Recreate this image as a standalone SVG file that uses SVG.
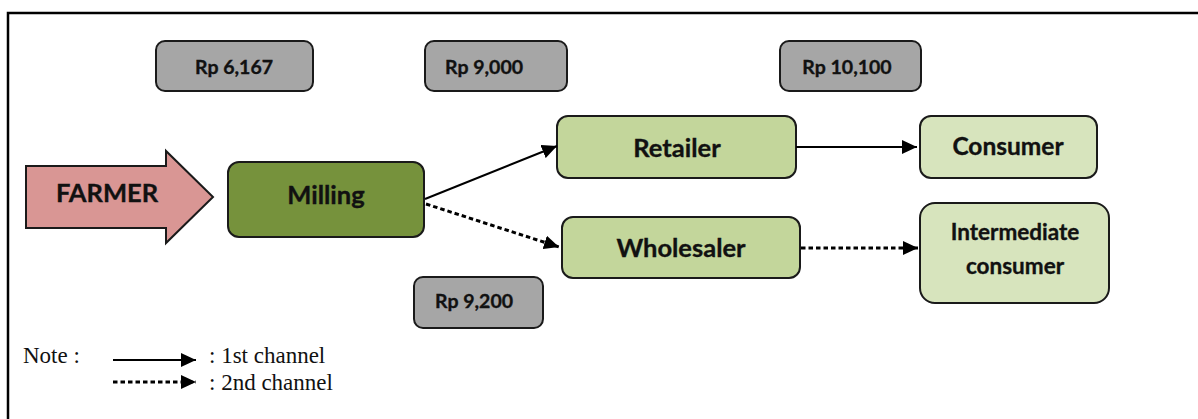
<svg xmlns="http://www.w3.org/2000/svg" width="1198" height="419" viewBox="0 0 1198 419">
<style>
.box{stroke:#1a1a1a;stroke-width:2}
.price{fill:#a6a6a6}
.mid{fill:#c3d69b}
.end{fill:#d7e4bd}
.lbl{font-family:Lato,"Open Sans",sans-serif;font-weight:bold;fill:#111;stroke:#111;stroke-width:0.35;text-anchor:middle}
.big{font-size:25.5px}
.pr{font-size:19.5px}
.note{font-family:"Liberation Serif","Times New Roman",serif;font-size:23px;fill:#111}
.solid{stroke:#000;stroke-width:2;fill:none}
.dot{stroke:#000;stroke-width:3;fill:none;stroke-dasharray:4.5 3}
</style>
<defs>
<marker id="ah" markerUnits="userSpaceOnUse" markerWidth="16" markerHeight="14" refX="15" refY="7" orient="auto">
<path d="M0,0 L15,7 L0,14 Z" fill="#000"/>
</marker>
</defs>
<rect x="8" y="13" width="1300" height="500" fill="#fff" stroke="#000" stroke-width="2.5"/>

<g id="price1"><rect class="box price" x="156" y="41" width="157" height="50" rx="9"/><text class="lbl pr" x="234" y="74">Rp 6,167</text></g>
<g id="price2"><rect class="box price" x="425" y="41" width="142" height="50" rx="9"/><text class="lbl pr" x="484" y="74">Rp 9,000</text></g>
<g id="price3"><rect class="box price" x="780" y="41" width="141" height="50" rx="9"/><text class="lbl pr" x="847" y="74">Rp 10,100</text></g>
<g id="price4"><rect class="box price" x="414" y="277" width="129" height="51" rx="9"/><text class="lbl pr" x="474" y="308">Rp 9,200</text></g>

<g id="farmer"><path class="box" d="M26,166 L166,166 L166,151 L213,197 L166,243 L166,228 L26,228 Z" fill="#d99694"/><text class="lbl big" x="107" y="202">FARMER</text></g>
<g id="milling"><rect class="box" x="228" y="162" width="196" height="75" rx="11" fill="#76923c"/><text class="lbl big" x="326" y="204">Milling</text></g>
<g id="retailer"><rect class="box mid" x="557" y="116" width="239" height="62" rx="11"/><text class="lbl big" x="677" y="157">Retailer</text></g>
<g id="wholesaler"><rect class="box mid" x="562" y="217" width="238" height="61" rx="11"/><text class="lbl big" x="681" y="257">Wholesaler</text></g>
<g id="consumer"><rect class="box end" x="920" y="116" width="177" height="62" rx="11"/><text class="lbl" style="font-size:24.5px" x="1008" y="155">Consumer</text></g>
<g id="intermediate"><rect class="box end" x="920" y="203" width="189" height="100" rx="15"/><text class="lbl" style="font-size:22.5px" x="1015" y="240">Intermediate</text><text class="lbl" style="font-size:22.5px" x="1015" y="274">consumer</text></g>

<g id="connectors">
<line class="solid" x1="425" y1="199" x2="557" y2="146" marker-end="url(#ah)"/>
<line class="dot" x1="426" y1="204" x2="559" y2="247" marker-end="url(#ah)"/>
<line class="solid" x1="796" y1="147" x2="917" y2="147" marker-end="url(#ah)"/>
<line class="dot" x1="801" y1="248" x2="918" y2="248" marker-end="url(#ah)"/>
</g>

<g id="legend">
<text class="note" x="23" y="363">Note :</text>
<line class="solid" x1="113" y1="360" x2="196" y2="360" marker-end="url(#ah)"/>
<line class="dot" x1="113" y1="382" x2="196" y2="382" marker-end="url(#ah)"/>
<text class="note" x="209" y="363">: 1st channel</text>
<text class="note" x="209" y="390">: 2nd channel</text>
</g>
</svg>
